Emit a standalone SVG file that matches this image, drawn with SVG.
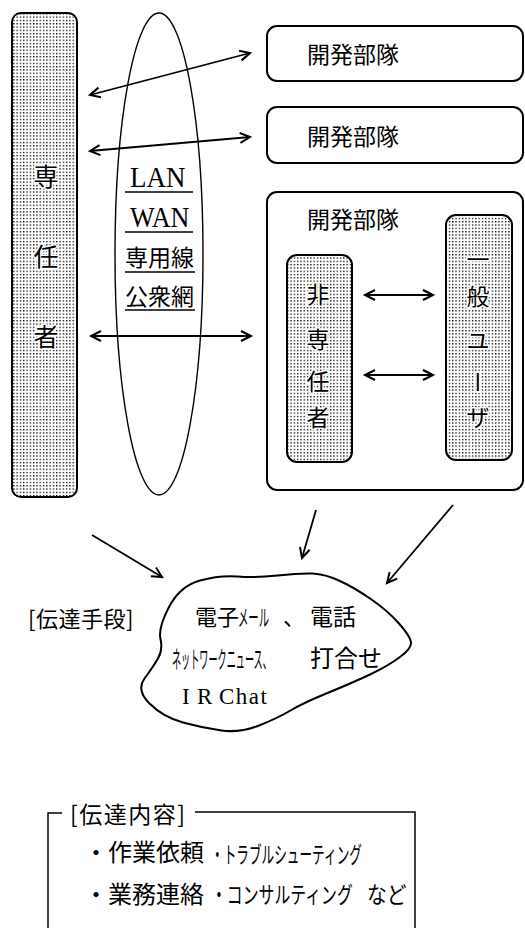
<svg xmlns="http://www.w3.org/2000/svg" width="525" height="928" viewBox="0 0 525 928">
<style>
.box{fill:none;stroke:#000;stroke-width:2}
.dot{fill:url(#dots);stroke:#000;stroke-width:2}
.jp{font-family:"Noto Sans CJK JP","Noto Sans CJK SC",sans-serif;fill:#000}
.vt{font-family:"Noto Sans CJK JP","Noto Sans CJK SC",sans-serif;fill:#000;text-anchor:middle;stroke:#fff;stroke-width:3;paint-order:stroke}
.lat{font-family:"Liberation Serif",serif;fill:#000}
.ln{stroke:#000;stroke-width:1.8;fill:none}
.ul{stroke:#000;stroke-width:1.5}
</style>
<defs>
<pattern id="dots" width="3.3" height="3.3" patternUnits="userSpaceOnUse"><rect width="1.3" height="1.3" fill="#000"/></pattern>
<marker id="ah" markerUnits="userSpaceOnUse" markerWidth="14" markerHeight="14" refX="10" refY="5" orient="auto-start-reverse" overflow="visible"><path d="M0,0 L10,5 L0,10" fill="none" stroke="#000" stroke-width="2"/></marker>
</defs>
<rect width="525" height="928" fill="#fff"/>

<g id="senninsha">
<rect class="dot" x="12" y="13" width="65" height="484" rx="9"/>
<text class="vt" x="46" y="186" font-size="25">専</text>
<text class="vt" x="46" y="266" font-size="25">任</text>
<text class="vt" x="46" y="346" font-size="25">者</text>
</g>

<g id="network">
<ellipse cx="159" cy="254" rx="44" ry="241" fill="none" stroke="#000" stroke-width="1.4"/>
<text class="lat" transform="translate(130,187) scale(0.9,1)" font-size="30">LAN</text>
<line class="ul" x1="125" y1="192" x2="193" y2="192"/>
<text class="lat" transform="translate(130,227) scale(0.87,1)" font-size="30">WAN</text>
<line class="ul" x1="125" y1="232" x2="193" y2="232"/>
<text class="jp" x="125" y="266" font-size="23">専用線</text>
<line class="ul" x1="125" y1="272" x2="195" y2="272"/>
<text class="jp" x="125" y="305" font-size="23">公衆網</text>
<line class="ul" x1="125" y1="310" x2="195" y2="310"/>
</g>

<g id="team1">
<rect class="box" x="267" y="26" width="256" height="55" rx="10"/>
<text class="jp" x="307" y="63" font-size="23">開発部隊</text>
</g>
<g id="team2">
<rect class="box" x="267" y="107" width="256" height="56" rx="10"/>
<text class="jp" x="307" y="145" font-size="23">開発部隊</text>
</g>
<g id="team3">
<rect class="box" x="267" y="192" width="256" height="298" rx="10"/>
<text class="jp" x="307" y="228" font-size="23">開発部隊</text>
</g>

<g id="hisenninsha">
<rect class="dot" x="287" y="255" width="65" height="207" rx="10"/>
<text class="vt" x="318" y="303" font-size="23">非</text>
<text class="vt" x="318" y="348" font-size="23">専</text>
<text class="vt" x="318" y="390" font-size="23">任</text>
<text class="vt" x="318" y="426" font-size="23">者</text>
</g>

<g id="ippanuser">
<rect class="dot" x="446" y="215" width="66" height="245" rx="10"/>
<text class="vt" x="478" y="268" font-size="23">一</text>
<text class="vt" x="478" y="305" font-size="23">般</text>
<text class="vt" x="478" y="349" font-size="23">ユ</text>
<text class="vt" x="478" y="371" font-size="23" style="writing-mode:vertical-rl;text-anchor:start">ー</text>
<text class="vt" x="478" y="426" font-size="23">ザ</text>
</g>

<g id="connectors">
<line class="ln" x1="90" y1="95" x2="250" y2="53" marker-start="url(#ah)" marker-end="url(#ah)"/>
<line class="ln" x1="90" y1="151" x2="250" y2="137" marker-start="url(#ah)" marker-end="url(#ah)"/>
<line class="ln" x1="91" y1="336" x2="251" y2="336" marker-start="url(#ah)" marker-end="url(#ah)"/>
<line class="ln" x1="365" y1="295" x2="433" y2="295" marker-start="url(#ah)" marker-end="url(#ah)"/>
<line class="ln" x1="365" y1="375" x2="433" y2="375" marker-start="url(#ah)" marker-end="url(#ah)"/>
<line class="ln" x1="92" y1="535" x2="162" y2="577" marker-end="url(#ah)"/>
<line class="ln" x1="316" y1="510" x2="302" y2="558" marker-end="url(#ah)"/>
<line class="ln" x1="453" y1="505" x2="387" y2="583" marker-end="url(#ah)"/>
</g>

<g id="shudan-label">
<text class="jp" x="28" y="627" font-size="22" letter-spacing="0.5">[伝達手段]</text>
</g>

<g id="cloud">
<path d="M169,607 Q180,586 200,580.5 Q220,575 237.5,576.5 Q255,578 277.5,575.5 Q300,573 312.5,573.5 Q325,574 340,581 Q355,588 371.5,599.5 Q388,611 399,623.5 Q410,636 411,642 Q412,648 400,657 Q388,666 370,674.5 Q352,683 327.5,693 Q303,703 290.5,710.5 Q278,718 259,725.5 Q240,733 221.5,730.5 Q203,728 183,722.5 Q163,717 149.5,703.5 Q136,690 144.5,678.5 Q153,667 158,658.5 Q163,650 160.5,639 Q158,628 169,607 Z" fill="none" stroke="#000" stroke-width="2"/>
<text class="jp" x="195" y="625" font-size="22">電子</text>
<text class="jp" transform="translate(238,626) scale(0.45,1)" font-size="23">メール</text>
<text class="jp" x="283" y="625" font-size="22">、</text>
<text class="jp" x="310" y="625" font-size="23">電話</text>
<text class="jp" transform="translate(172,668) scale(0.38,1)" font-size="24">ネットワークニュース、</text>
<text class="jp" x="310" y="667" font-size="24">打合せ</text>
<text class="lat" y="704" font-size="23"><tspan x="182">I</tspan><tspan x="197">R</tspan><tspan x="219" letter-spacing="1.5">Chat</tspan></text>
</g>

<g id="naiyou">
<path d="M48,928 L48,813 L62,813" fill="none" stroke="#000" stroke-width="1.5"/>
<path d="M195,812 L415,812 L415,928" fill="none" stroke="#000" stroke-width="1.5"/>
<text class="jp" x="70" y="823" font-size="23" letter-spacing="1.5">[伝達内容]</text>
<text class="jp" x="84" y="861" font-size="24">・作業依頼</text>
<text class="jp" transform="translate(211,863) scale(0.55,1)" font-size="23">・トラブルシューティング</text>
<text class="jp" x="84" y="903" font-size="24">・業務連絡</text>
<text class="jp" transform="translate(211,903) scale(0.69,1)" font-size="23">・コンサルティング</text>
<text class="jp" transform="translate(367,903) scale(0.86,1)" font-size="23">など</text>
</g>
</svg>
